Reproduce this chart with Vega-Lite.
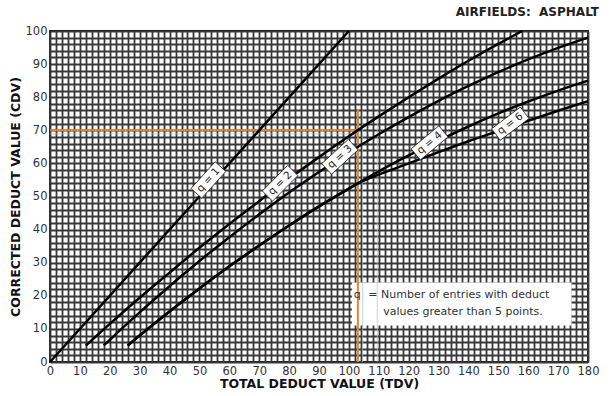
{
  "$schema": "https://vega.github.io/schema/vega-lite/v6.json",
  "width": 538,
  "height": 331,
  "autosize": {"type": "none"},
  "padding": {"left": 50, "top": 31, "right": 23, "bottom": 34},
  "background": "white",
  "title": {"text": "AIRFIELDS:\u00a0 ASPHALT", "anchor": "end", "font": "DejaVu Sans", "fontSize": 12, "fontWeight": "bold", "color": "#222", "offset": 6},
  "config": {
    "view": {"stroke": "#111", "strokeWidth": 1.8},
    "axis": {"labelFont": "DejaVu Sans", "labelFontSize": 11.5, "labelColor": "#333", "titleFont": "DejaVu Sans", "titleFontSize": 12.5, "titleFontWeight": "bold", "titleColor": "#111", "ticks": false, "domain": false, "grid": true, "gridColor": "#383838", "gridWidth": 1.8, "gridOpacity": 1, "labelOverlap": false, "labelFlush": false, "labelBound": false}
  },
  "datasets": {
    "curves": [
      {"q": "q = 1", "tdv": 0, "cdv": 0}, {"q": "q = 1", "tdv": 50, "cdv": 50}, {"q": "q = 1", "tdv": 100, "cdv": 100},
      {"q": "q = 2", "tdv": 12, "cdv": 5}, {"q": "q = 2", "tdv": 20, "cdv": 11.5}, {"q": "q = 2", "tdv": 30, "cdv": 19.4}, {"q": "q = 2", "tdv": 40, "cdv": 27}, {"q": "q = 2", "tdv": 50, "cdv": 34.5}, {"q": "q = 2", "tdv": 60, "cdv": 41.7}, {"q": "q = 2", "tdv": 70, "cdv": 48.6}, {"q": "q = 2", "tdv": 80, "cdv": 55.4}, {"q": "q = 2", "tdv": 90, "cdv": 61.9}, {"q": "q = 2", "tdv": 100, "cdv": 68.2}, {"q": "q = 2", "tdv": 110, "cdv": 74.2}, {"q": "q = 2", "tdv": 120, "cdv": 80}, {"q": "q = 2", "tdv": 130, "cdv": 85.6}, {"q": "q = 2", "tdv": 140, "cdv": 91}, {"q": "q = 2", "tdv": 150, "cdv": 96.1}, {"q": "q = 2", "tdv": 158, "cdv": 100},
      {"q": "q = 3", "tdv": 18, "cdv": 5}, {"q": "q = 3", "tdv": 20, "cdv": 6.7}, {"q": "q = 3", "tdv": 30, "cdv": 15}, {"q": "q = 3", "tdv": 40, "cdv": 22.9}, {"q": "q = 3", "tdv": 50, "cdv": 30.5}, {"q": "q = 3", "tdv": 60, "cdv": 37.7}, {"q": "q = 3", "tdv": 70, "cdv": 44.6}, {"q": "q = 3", "tdv": 80, "cdv": 51.2}, {"q": "q = 3", "tdv": 90, "cdv": 57.4}, {"q": "q = 3", "tdv": 100, "cdv": 63.3}, {"q": "q = 3", "tdv": 110, "cdv": 68.8}, {"q": "q = 3", "tdv": 120, "cdv": 74}, {"q": "q = 3", "tdv": 130, "cdv": 78.9}, {"q": "q = 3", "tdv": 140, "cdv": 83.4}, {"q": "q = 3", "tdv": 150, "cdv": 87.6}, {"q": "q = 3", "tdv": 160, "cdv": 91.4}, {"q": "q = 3", "tdv": 170, "cdv": 94.9}, {"q": "q = 3", "tdv": 180, "cdv": 98},
      {"q": "q = 4", "tdv": 26, "cdv": 5}, {"q": "q = 4", "tdv": 30, "cdv": 8}, {"q": "q = 4", "tdv": 40, "cdv": 15.25}, {"q": "q = 4", "tdv": 50, "cdv": 22.2}, {"q": "q = 4", "tdv": 60, "cdv": 28.9}, {"q": "q = 4", "tdv": 70, "cdv": 35.2}, {"q": "q = 4", "tdv": 80, "cdv": 41.25}, {"q": "q = 4", "tdv": 90, "cdv": 47}, {"q": "q = 4", "tdv": 100, "cdv": 52.4}, {"q": "q = 4", "tdv": 110, "cdv": 57.6}, {"q": "q = 4", "tdv": 120, "cdv": 62.4}, {"q": "q = 4", "tdv": 130, "cdv": 66.9}, {"q": "q = 4", "tdv": 140, "cdv": 71.15}, {"q": "q = 4", "tdv": 150, "cdv": 75.1}, {"q": "q = 4", "tdv": 160, "cdv": 78.7}, {"q": "q = 4", "tdv": 170, "cdv": 82}, {"q": "q = 4", "tdv": 180, "cdv": 85},
      {"q": "q = 6", "tdv": 26, "cdv": 5}, {"q": "q = 6", "tdv": 30, "cdv": 8}, {"q": "q = 6", "tdv": 40, "cdv": 15.25}, {"q": "q = 6", "tdv": 50, "cdv": 22.2}, {"q": "q = 6", "tdv": 60, "cdv": 28.9}, {"q": "q = 6", "tdv": 70, "cdv": 35.2}, {"q": "q = 6", "tdv": 80, "cdv": 41.25}, {"q": "q = 6", "tdv": 90, "cdv": 47}, {"q": "q = 6", "tdv": 100, "cdv": 52.4}, {"q": "q = 6", "tdv": 104, "cdv": 54.4}, {"q": "q = 6", "tdv": 110, "cdv": 56.6}, {"q": "q = 6", "tdv": 120, "cdv": 60}, {"q": "q = 6", "tdv": 130, "cdv": 63.4}, {"q": "q = 6", "tdv": 140, "cdv": 66.7}, {"q": "q = 6", "tdv": 150, "cdv": 69.8}, {"q": "q = 6", "tdv": 160, "cdv": 72.9}, {"q": "q = 6", "tdv": 170, "cdv": 75.9}, {"q": "q = 6", "tdv": 180, "cdv": 78.8}
    ],
    "labels": [
      {"q": "q = 1", "tdv": 53, "cdv": 55},
      {"q": "q = 2", "tdv": 77, "cdv": 54},
      {"q": "q = 3", "tdv": 97, "cdv": 62},
      {"q": "q = 4", "tdv": 127, "cdv": 66.2},
      {"q": "q = 6", "tdv": 154, "cdv": 72}
    ],
    "orange": [
      {"tdv": 103, "tdv2": 103, "cdv": 0, "cdv2": 76.5},
      {"tdv": 0, "tdv2": 103.5, "cdv": 70, "cdv2": 70}
    ],
    "blue": [
      {"tdv": 104.6, "tdv2": 104.6, "cdv": 0, "cdv2": 76},
      {"tdv": 109.5, "tdv2": 109.5, "cdv": 0, "cdv2": 76},
      {"tdv": 0, "tdv2": 103, "cdv": 68.9, "cdv2": 68.9}
    ],
    "box": [{"tdv": 101, "tdv2": 174.5, "cdv": 11, "cdv2": 24}],
    "note": [
      {"t": "q", "tdv": 101.6, "cdv": 20.2},
      {"t": "= Number of entries with deduct", "tdv": 106.5, "cdv": 20.2},
      {"t": "values greater than 5 points.", "tdv": 111.5, "cdv": 15}
    ]
  },
  "encoding": {
    "x": {"field": "tdv", "type": "quantitative", "scale": {"domain": [0, 180], "nice": false, "zero": false},
      "axis": {"values": [0,2,4,6,8,10,12,14,16,18,20,22,24,26,28,30,32,34,36,38,40,42,44,46,48,50,52,54,56,58,60,62,64,66,68,70,72,74,76,78,80,82,84,86,88,90,92,94,96,98,100,102,104,106,108,110,112,114,116,118,120,122,124,126,128,130,132,134,136,138,140,142,144,146,148,150,152,154,156,158,160,162,164,166,168,170,172,174,176,178,180],
        "labelExpr": "datum.value % 10 === 0 ? datum.label : ''", "title": "TOTAL DEDUCT VALUE (TDV)", "labelPadding": 3, "titlePadding": 1}},
    "y": {"field": "cdv", "type": "quantitative", "scale": {"domain": [0, 100], "nice": false, "zero": false},
      "axis": {"values": [0,2,4,6,8,10,12,14,16,18,20,22,24,26,28,30,32,34,36,38,40,42,44,46,48,50,52,54,56,58,60,62,64,66,68,70,72,74,76,78,80,82,84,86,88,90,92,94,96,98,100],
        "labelExpr": "datum.value % 10 === 0 ? datum.label : ''", "title": "CORRECTED DEDUCT VALUE (CDV)", "labelPadding": 3, "titlePadding": 3}}
  },
  "layer": [
    {
      "data": {"name": "box"},
      "mark": {"type": "rect", "fill": "white", "stroke": null},
      "encoding": {"x2": {"field": "tdv2"}, "y2": {"field": "cdv2"}}
    },
    {
      "data": {"name": "blue"},
      "mark": {"type": "rule", "color": "#9cc3e0", "strokeWidth": 1, "opacity": 0.7},
      "encoding": {"x2": {"field": "tdv2"}, "y2": {"field": "cdv2"}}
    },
    {
      "data": {"name": "orange"},
      "mark": {"type": "rule", "color": "#e8832a", "strokeWidth": 2},
      "encoding": {"x2": {"field": "tdv2"}, "y2": {"field": "cdv2"}}
    },
    {
      "data": {"name": "curves"},
      "mark": {"type": "line", "color": "#000", "strokeWidth": 2.5, "interpolate": "monotone"},
      "encoding": {"detail": {"field": "q", "type": "nominal"}}
    },
    {
      "data": {"name": "labels"},
      "mark": {"type": "point", "shape": "M-1,-0.4L1,-0.4L1,0.4L-1,0.4Z", "size": 1300, "filled": true, "fill": "white", "stroke": "#222", "strokeWidth": 0.8, "opacity": 1},
      "encoding": {
        "angle": {"field": "q", "type": "nominal", "scale": {"domain": ["q = 1", "q = 2", "q = 3", "q = 4", "q = 6"], "range": [-48, -37, -33, -26, -19]}, "legend": null}
      }
    },
    {
      "data": {"name": "labels"},
      "mark": {"type": "text", "font": "DejaVu Sans", "fontSize": 10.5, "color": "#222", "align": "center", "baseline": "middle"},
      "encoding": {
        "text": {"field": "q"},
        "angle": {"field": "q", "type": "nominal", "scale": {"domain": ["q = 1", "q = 2", "q = 3", "q = 4", "q = 6"], "range": [-48, -37, -33, -26, -19]}, "legend": null}
      }
    },
    {
      "data": {"name": "note"},
      "mark": {"type": "text", "font": "DejaVu Sans", "fontSize": 11, "color": "#333", "align": "left", "baseline": "middle"},
      "encoding": {"text": {"field": "t"}}
    }
  ]
}
